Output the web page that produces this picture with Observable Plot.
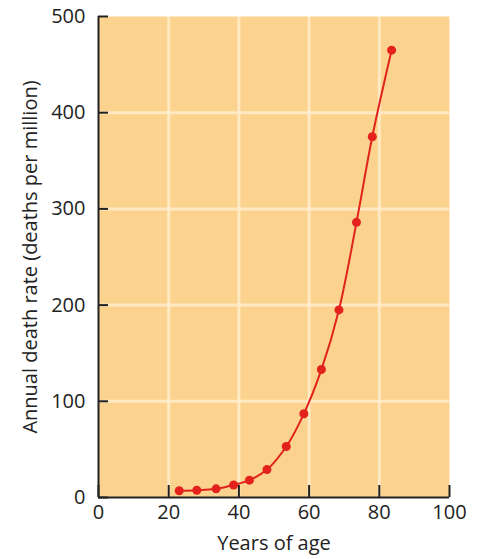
<!DOCTYPE html>
<html>
<head>
<meta charset="utf-8">
<script src="https://cdn.jsdelivr.net/npm/d3@7"></script>
<script src="https://cdn.jsdelivr.net/npm/@observablehq/plot@0.6"></script>
<style>
  html, body { margin: 0; padding: 0; background: #ffffff; }
  #chart svg { display: block; }
</style>
</head>
<body>
<div id="chart"></div>
<script>
const ages = [23, 28, 33.5, 38.5, 43, 48, 53.5, 58.5, 63.5, 68.5, 73.5, 78, 83.5];
const deathRates = [7, 7.5, 9, 13, 18, 29, 53, 87, 133, 195, 286, 375, 465];
const xTicks = [0, 20, 40, 60, 80, 100];
const yTicks = [0, 100, 200, 300, 400, 500];
const xGrid = [20, 40, 60, 80];
const yGrid = [100, 200, 300, 400];
const xLabel = "Years of age";
const yLabel = "Annual death rate (deaths per million)";

const data = ages.map((a, i) => ({age: a, rate: deathRates[i]}));
const font = "'Open Sans', Lato, sans-serif";

const chart = Plot.plot({
  width: 485,
  height: 559,
  marginLeft: 98,
  marginRight: 36,
  marginTop: 16,
  marginBottom: 62,
  style: {fontFamily: font, fontSize: "20px", color: "#222", background: "#ffffff"},
  x: {domain: [0, 100]},
  y: {domain: [0, 500]},
  marks: [
    Plot.frame({fill: "#fcd38e", stroke: null}),
    Plot.ruleX(xGrid, {stroke: "#fff0d4", strokeWidth: 3, strokeOpacity: 0.75}),
    Plot.ruleY(yGrid, {stroke: "#fff0d4", strokeWidth: 3, strokeOpacity: 0.75}),
    // inward ticks
    Plot.axisY({ticks: yTicks, tickSize: 10, insetLeft: 10, tickFormat: () => "", label: null, stroke: "#222", strokeWidth: 2}),
    Plot.axisX({ticks: xTicks, tickSize: 12, insetBottom: 12, tickFormat: () => "", label: null, stroke: "#222", strokeWidth: 2}),
    // labels
    Plot.axisY({ticks: yTicks, tickSize: 0, tickPadding: 13, label: yLabel, labelAnchor: "center", labelArrow: "none", labelOffset: 76, fontSize: 20}),
    Plot.axisX({ticks: xTicks, tickSize: 0, tickPadding: 7, label: xLabel, labelAnchor: "center", labelArrow: "none", labelOffset: 52, fontSize: 20}),
    Plot.ruleX([0], {stroke: "#222", strokeWidth: 2}),
    Plot.ruleY([0], {stroke: "#222", strokeWidth: 2}),
    Plot.line(data, {x: "age", y: "rate", curve: "catmull-rom", stroke: "#e0231c", strokeWidth: 2}),
    Plot.dot(data, {x: "age", y: "rate", r: 4.5, fill: "#e4221d", stroke: null})
  ]
});
document.getElementById("chart").appendChild(chart);
</script>
</body>
</html>
